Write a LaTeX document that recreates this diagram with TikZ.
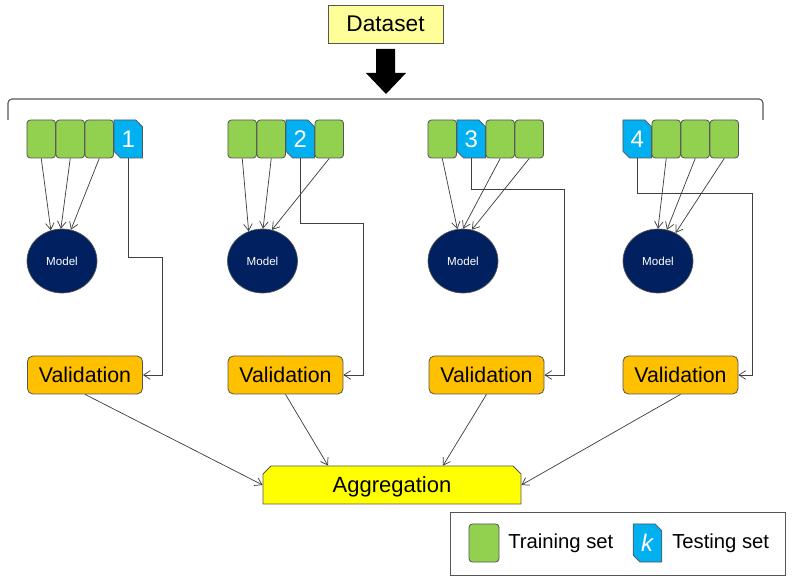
\documentclass[tikz,border=0pt]{standalone}
\usepackage{fontspec}
\setmainfont{Liberation Sans}
\usetikzlibrary{arrows.meta,shapes.misc,shapes.geometric,calc}
\definecolor{trgreen}{HTML}{92D050}
\definecolor{tsblue}{HTML}{00B0F0}
\definecolor{mnavy}{HTML}{002060}
\definecolor{valorange}{HTML}{FFC000}
\definecolor{aggyellow}{HTML}{FFFF00}
\definecolor{dsyellow}{HTML}{FFFF99}
\definecolor{edgegray}{HTML}{555555}
\definecolor{linegray}{HTML}{404040}
\tikzset{
  trainblk/.style={rectangle, rounded corners=2.5pt, draw=edgegray, line width=0.6pt, fill=trgreen,
    minimum width=21.4pt, minimum height=28.5pt, inner sep=0pt},
  testblk/.style={chamfered rectangle, chamfered rectangle corners={north east,south west},
    chamfered rectangle xsep=2.5pt, chamfered rectangle ysep=2.5pt,
    draw=edgegray, line width=0.6pt, fill=tsblue, text=white,
    minimum width=21.4pt, minimum height=28.5pt, inner sep=0pt, font=\fontsize{18}{20}\selectfont},
  modelnode/.style={ellipse, draw=edgegray, line width=0.5pt, fill=mnavy, text=white,
    minimum width=52.5pt, minimum height=48pt, inner sep=0pt, font=\fontsize{8.7}{10}\selectfont},
  valnode/.style={rectangle, rounded corners=4pt, draw=edgegray, line width=0.6pt, fill=valorange,
    minimum width=86.25pt, minimum height=28.5pt, inner sep=0pt, font=\fontsize{16}{18}\selectfont},
  aggnode/.style={chamfered rectangle, chamfered rectangle corners={north west,north east},
    chamfered rectangle xsep=3pt, chamfered rectangle ysep=3pt,
    draw=edgegray, line width=0.6pt, fill=aggyellow, text depth=0pt,
    minimum width=193.5pt, minimum height=28.5pt, inner sep=0pt, font=\fontsize{16.5}{18}\selectfont},
  dsnode/.style={rectangle, draw=edgegray, line width=0.6pt, fill=dsyellow,
    minimum width=86.25pt, minimum height=28.5pt, inner sep=0pt, font=\fontsize{17}{19}\selectfont},
  conn/.style={draw=linegray, line width=0.55pt, -{Straight Barb[length=5pt,width=6.5pt]}},
  legtext/.style={anchor=west, inner sep=0pt, font=\fontsize{15.2}{17}\selectfont},
}
\begin{document}
\begin{tikzpicture}[x=0.75pt,y=-0.75pt]
\useasboundingbox (0,0) rectangle (793,584);

% Dataset and big arrow
\node[dsnode] (ds) at (385.5,24) {Dataset};
\fill[black] (376,49) -- (395,49) -- (395,73) -- (406,73) -- (386,94) -- (366,73) -- (376,73) -- cycle;

% bracket
\draw[draw=edgegray, line width=0.8pt, rounded corners=3pt] (8,120) -- (8,99) -- (763,99) -- (763,120);

% Fold 1
\node[trainblk] (f1a) at (41.25,139) {};
\node[trainblk] (f1b) at (70.25,139) {};
\node[trainblk] (f1c) at (99.25,139) {};
\node[testblk]  (f1t) at (128.25,139) {1};
% Fold 2
\node[trainblk] (f2a) at (242.25,139) {};
\node[trainblk] (f2b) at (271.25,139) {};
\node[testblk]  (f2t) at (300.25,139) {2};
\node[trainblk] (f2c) at (329.25,139) {};
% Fold 3
\node[trainblk] (f3a) at (442.25,139) {};
\node[testblk]  (f3t) at (471.25,139) {3};
\node[trainblk] (f3b) at (500.25,139) {};
\node[trainblk] (f3c) at (529.25,139) {};
% Fold 4
\node[testblk]  (f4t) at (637.25,139) {4};
\node[trainblk] (f4a) at (666.25,139) {};
\node[trainblk] (f4b) at (695.25,139) {};
\node[trainblk] (f4c) at (724.25,139) {};

% Models
\node[modelnode] (m1) at (62,261) {Model};
\node[modelnode] (m2) at (262.5,261) {Model};
\node[modelnode] (m3) at (463,261) {Model};
\node[modelnode] (m4) at (658,261) {Model};

% Validation
\node[valnode] (v1) at (85,375) {Validation};
\node[valnode] (v2) at (285.5,375) {Validation};
\node[valnode] (v3) at (486.5,375) {Validation};
\node[valnode] (v4) at (680.5,375) {Validation};

% Aggregation
\node[aggnode] (agg) at (392,485) {Aggregation};

% training arrows
\draw[conn] (f1a.south) -- (m1.110);
\draw[conn] (f1b.south) -- (m1.92);
\draw[conn] (f1c.south) -- (m1.74);
\draw[conn] (f2a.south) -- (m2.115);
\draw[conn] (f2b.south) -- (m2.89);
\draw[conn] (f2c.south) -- (m2.73);
\draw[conn] (f3a.south) -- (m3.100);
\draw[conn] (f3b.south) -- (m3.90);
\draw[conn] (f3c.south) -- (m3.74);
\draw[conn] (f4a.south) -- (m4.90);
\draw[conn] (f4b.south) -- (m4.74);
\draw[conn] (f4c.south) -- (m4.58);

% testing connectors
\coordinate (c1) at (162,257);
\coordinate (c2) at (363,223);
\coordinate (c3) at (564,189);
\coordinate (c4) at (752,193);
\draw[conn] (f1t.south) |- (c1) |- (v1.east);
\draw[conn] (f2t.south) |- (c2) |- (v2.east);
\draw[conn] (f3t.south) |- (c3) |- (v3.east);
\draw[conn] (f4t.south) |- (c4) |- (v4.east);

% validation to aggregation
\draw[conn] (v1.south) -- (agg.west);
\draw[conn] (v2.south) -- ($(agg.north)+(-64,0)$);
\draw[conn] (v3.south) -- ($(agg.north)+(51,0)$);
\draw[conn] (v4.south) -- (agg.east);

% legend
\node[rectangle, draw=edgegray, line width=0.6pt, minimum width=251.25pt, minimum height=47.25pt, inner sep=0pt] (leg) at (617.5,543.5) {};
\node[trainblk, minimum width=22.5pt] (lgtr) at (484,543) {};
\node[legtext] (lgtrt) at (508,543) {Training set};
\node[testblk] (lgts) at (647.5,543) {\textit{k}};
\node[legtext] (lgtst) at (672,543) {Testing set};
\end{tikzpicture}
\end{document}
